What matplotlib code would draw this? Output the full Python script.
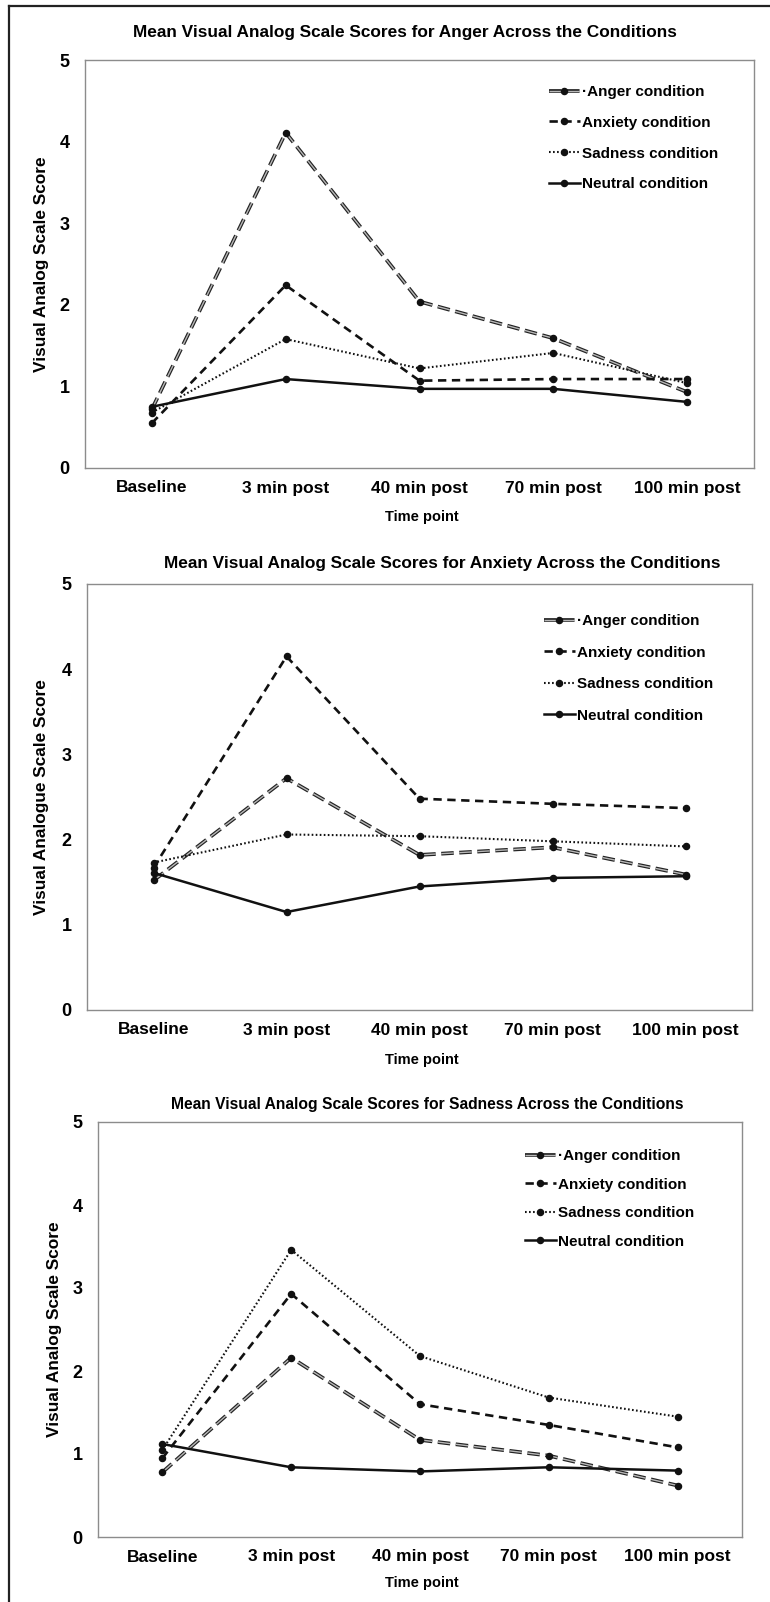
import matplotlib
matplotlib.use("Agg")
import matplotlib.pyplot as plt
from matplotlib.lines import Line2D

plt.rcParams['font.family'] = ['Liberation Sans', 'DejaVu Sans']
plt.rcParams['font.weight'] = 'bold'
plt.rcParams['lines.scale_dashes'] = False

W, H = 770, 1602

time_points = ["Baseline", "3 min post", "40 min post", "70 min post", "100 min post"]
conditions = ["Anger condition", "Anxiety condition", "Sadness condition", "Neutral condition"]
legend_labels = ["\u00b7Anger condition", "Anxiety condition", "Sadness condition", "Neutral condition"]

# Panel 1: Anger ratings
anger_anger = [0.72, 4.11, 2.04, 1.59, 0.93]
anger_anxiety = [0.55, 2.24, 1.07, 1.09, 1.09]
anger_sadness = [0.68, 1.58, 1.22, 1.41, 1.04]
anger_neutral = [0.75, 1.09, 0.97, 0.97, 0.81]

# Panel 2: Anxiety ratings
anx_anger = [1.52, 2.72, 1.82, 1.91, 1.59]
anx_anxiety = [1.67, 4.15, 2.48, 2.42, 2.37]
anx_sadness = [1.73, 2.06, 2.04, 1.98, 1.92]
anx_neutral = [1.61, 1.15, 1.45, 1.55, 1.57]

# Panel 3: Sadness ratings
sad_anger = [0.78, 2.16, 1.17, 0.98, 0.62]
sad_anxiety = [0.95, 2.93, 1.60, 1.35, 1.08]
sad_sadness = [1.05, 3.46, 2.18, 1.68, 1.45]
sad_neutral = [1.12, 0.84, 0.79, 0.84, 0.80]

panels = [
    dict(title="Mean Visual Analog Scale Scores for Anger Across the Conditions",
         ylabel="Visual Analog Scale Score",
         series=[anger_anger, anger_anxiety, anger_sadness, anger_neutral],
         box=(85, 754, 60, 468), title_xy=(405, 32), title_size=12.4,
         ylabel_x=42, xlabel_y=517, legend_xy=(549, 85), labelspacing=1.1),
    dict(title="Mean Visual Analog Scale Scores for Anxiety Across the Conditions",
         ylabel="Visual Analogue Scale Score",
         series=[anx_anger, anx_anxiety, anx_sadness, anx_neutral],
         box=(87, 752, 584, 1010), title_xy=(442, 563), title_size=12.4,
         ylabel_x=42, xlabel_y=1060, legend_xy=(544, 614), labelspacing=1.15),
    dict(title="Mean Visual Analog Scale Scores for Sadness Across the Conditions",
         ylabel="Visual Analog Scale Score",
         series=[sad_anger, sad_anxiety, sad_sadness, sad_neutral],
         box=(98, 742, 1122, 1537), title_xy=(427, 1105), title_size=11.25,
         ylabel_x=55, xlabel_y=1583, legend_xy=(525, 1149), labelspacing=0.95),
]

fig = plt.figure(figsize=(W / 100, H / 100), dpi=100)

# outer border (top and left)
fig.add_artist(Line2D([9 / W, 1.0], [1 - 6 / H, 1 - 6 / H], transform=fig.transFigure,
                      color='#222222', lw=1.6))
fig.add_artist(Line2D([9 / W, 9 / W], [1 - 6 / H, 0.0], transform=fig.transFigure,
                      color='#222222', lw=1.6))

x = list(range(len(time_points)))
MS = 4.4
DK = '#111111'

for p in panels:
    l, r, t, b = p['box']
    ax = fig.add_axes([l / W, 1 - b / H, (r - l) / W, (b - t) / H])
    s_anger, s_anx, s_sad, s_neu = p['series']

    # anger condition: double-outlined long dashes
    outer, = ax.plot(x, s_anger, color='#222222', lw=2.7, dashes=(9, 4),
                     dash_capstyle='butt')
    inner, = ax.plot(x, s_anger, color='#b8b8b8', lw=1.0, dashes=(9, 4),
                     dash_capstyle='butt', marker='o', markersize=MS,
                     markerfacecolor=DK, markeredgecolor=DK)
    h_anx, = ax.plot(x, s_anx, color=DK, lw=1.9, dashes=(6, 4), dash_capstyle='butt',
                     marker='o', markersize=MS)
    h_sad, = ax.plot(x, s_sad, color=DK, lw=1.5, dashes=(1.2, 1.7), dash_capstyle='butt',
                     marker='o', markersize=MS)
    h_neu, = ax.plot(x, s_neu, color=DK, lw=1.8, marker='o', markersize=MS)

    ax.set_xlim(-0.5, 4.5)
    ax.set_ylim(0, 5)
    ax.set_yticks([0, 1, 2, 3, 4, 5])
    ax.set_xticks(x)
    ax.set_xticklabels(time_points)
    ax.tick_params(axis='both', length=0)
    ax.tick_params(axis='x', labelsize=12.5, pad=9)
    ax.tick_params(axis='y', labelsize=13, pad=11)
    for sp in ax.spines.values():
        sp.set_color('#8c8c8c')
        sp.set_linewidth(1.0)

    fig.text(p['title_xy'][0] / W, 1 - p['title_xy'][1] / H, p['title'],
             ha='center', va='center', fontsize=p['title_size'], fontweight='bold')
    fig.text(p['ylabel_x'] / W, 1 - (t + b) / 2 / H, p['ylabel'], rotation=90,
             ha='center', va='center', fontsize=12.4, fontweight='bold')
    fig.text(422 / W, 1 - p['xlabel_y'] / H, "Time point", ha='center', va='center',
             fontsize=10.5, fontweight='bold')

    lx, ly = p['legend_xy']
    ax.legend([(outer, inner), h_anx, h_sad, h_neu], legend_labels,
              loc='upper left', bbox_to_anchor=(lx / W, 1 - ly / H),
              bbox_transform=fig.transFigure, frameon=False,
              handlelength=2.0, handletextpad=0.15, borderpad=0, borderaxespad=0,
              labelspacing=p['labelspacing'], prop={'weight': 'bold', 'size': 11})

fig.savefig("out.png", dpi=100, facecolor='white')
